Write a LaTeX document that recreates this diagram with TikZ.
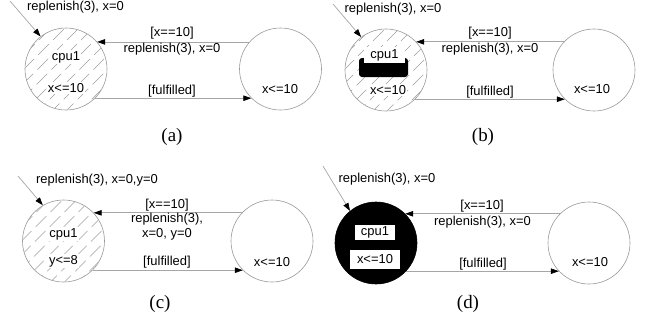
\documentclass[tikz,border=0pt]{standalone}
\usepackage{fontspec}
\setmainfont{Liberation Sans}
\newfontfamily\capfont{Liberation Serif}
\usetikzlibrary{arrows.meta}
\begin{document}
\begin{tikzpicture}[x=1bp,y=-1bp,
  every node/.style={font=\fontsize{13}{15}\selectfont, inner sep=1bp},
  state/.style={circle, draw=gray!80, line width=0.6bp, minimum size=82bp, inner sep=0},
  hatch/.style={draw=gray!75, line width=0.45bp, dash pattern=on 15bp off 6bp},
  conn/.style={draw=gray!70, line width=0.7bp, -{Triangle[length=8bp,width=5.5bp,color=black,fill=black]}},
  wlbl/.style={fill=white},
  subcap/.style={font=\capfont\fontsize{19}{22}\selectfont}]
\useasboundingbox (0,0) rectangle (646,324);

% ---------------- (a)
\node[state] (a1) at (66,69) {};
\node[state] (a2) at (280.5,69) {};
\begin{scope}
\clip (a1.center) circle (40.7bp);
\foreach \d in {-126,-112,...,126} \draw[hatch] ([shift={(\d-60,60)}]a1.center) -- ++(120,-120);
\end{scope}
\node[wlbl] (a1t) at (66,57) {cpu1};
\node[wlbl] (a1i) at (66,88) {x<=10};
\node (a2i) at (280,89) {x<=10};
\coordinate (a0) at (10,1);
\draw[conn] (a0) -- (a1.128);
\node (a0l) at (75.5,7) {replenish(3), x=0};
\draw[conn] (a2.139) -- (a1.41);
\draw[conn] (a1.-45) -- (a2.-135);
\node (ag) at (172,33) {[x==10]};
\node (ar) at (172,49) {replenish(3), x=0};
\node (af) at (172,91) {[fulfilled]};
\node[subcap] (acap) at (172,137) {(a)};

% ---------------- (b)
\node[state] (b1) at (386,70) {};
\node[state] (b2) at (594,70) {};
\begin{scope}
\clip (b1.center) circle (40.7bp);
\foreach \d in {-126,-112,...,126} \draw[hatch] ([shift={(\d-60,60)}]b1.center) -- ++(120,-120);
\end{scope}
\fill[black, rounded corners=3bp] (359,58) rectangle (408,77);
\node[fill=white, minimum width=41bp, minimum height=16bp] (b1t) at (384.5,55) {cpu1};
\node[wlbl] (b1i) at (388,90) {x<=10};
\node (b2i) at (592,89) {x<=10};
\coordinate (b0) at (333,4);
\draw[conn] (b0) -- (b1.127);
\node (b0l) at (393,9) {replenish(3), x=0};
\draw[conn] (b2.137) -- (b1.43);
\draw[conn] (b1.-45) -- (b2.-135);
\node (bg) at (490,33) {[x==10]};
\node (br) at (490,49) {replenish(3), x=0};
\node (bf) at (490,92) {[fulfilled]};
\node[subcap] (bcap) at (483,137) {(b)};

% ---------------- (c)
\node[state] (c1) at (63.5,241) {};
\node[state] (c2) at (272,241) {};
\begin{scope}
\clip (c1.center) circle (40.7bp);
\foreach \d in {-126,-112,...,126} \draw[hatch] ([shift={(\d-60,60)}]c1.center) -- ++(120,-120);
\end{scope}
\node[wlbl] (c1t) at (63.5,234) {cpu1};
\node[wlbl] (c1i) at (63.5,261) {y<=8};
\node (c2i) at (272,262) {x<=10};
\coordinate (c0) at (18,176);
\draw[conn] (c0) -- (c1.120);
\node (c0l) at (97,180) {replenish(3), x=0,y=0};
\draw[conn] (c2.137) -- (c1.43);
\draw[conn] (c1.-45) -- (c2.-135);
\node (cg) at (167,205) {[x==10]};
\node (cr) at (167,219.5) {replenish(3),};
\node (cr2) at (167,234) {x=0, y=0};
\node (cf) at (167,262) {[fulfilled]};
\node[subcap] (ccap) at (160,304) {(c)};

% ---------------- (d)
\node[state, fill=black, draw=black] (d1) at (376,243) {};
\node[state] (d2) at (589,243) {};
\node[fill=white, minimum width=40bp, minimum height=15bp] (d1t) at (375,232.5) {cpu1};
\node[fill=white, minimum width=50bp, minimum height=19bp] (d1i) at (375,259.5) {x<=10};
\node (d2i) at (590,262) {x<=10};
\coordinate (d0) at (323,166);
\draw[conn] (d0) -- (d1.129);
\node (d0l) at (387,179) {replenish(3), x=0};
\draw[conn] (d2.135) -- (d1.45);
\draw[conn] (d1.-43) -- (d2.-137);
\node (dg) at (482,206) {[x==10]};
\node (dr) at (482.5,222.5) {replenish(3), x=0};
\node (df) at (483,264) {[fulfilled]};
\node[subcap] (dcap) at (468,304) {(d)};
\end{tikzpicture}
\end{document}
